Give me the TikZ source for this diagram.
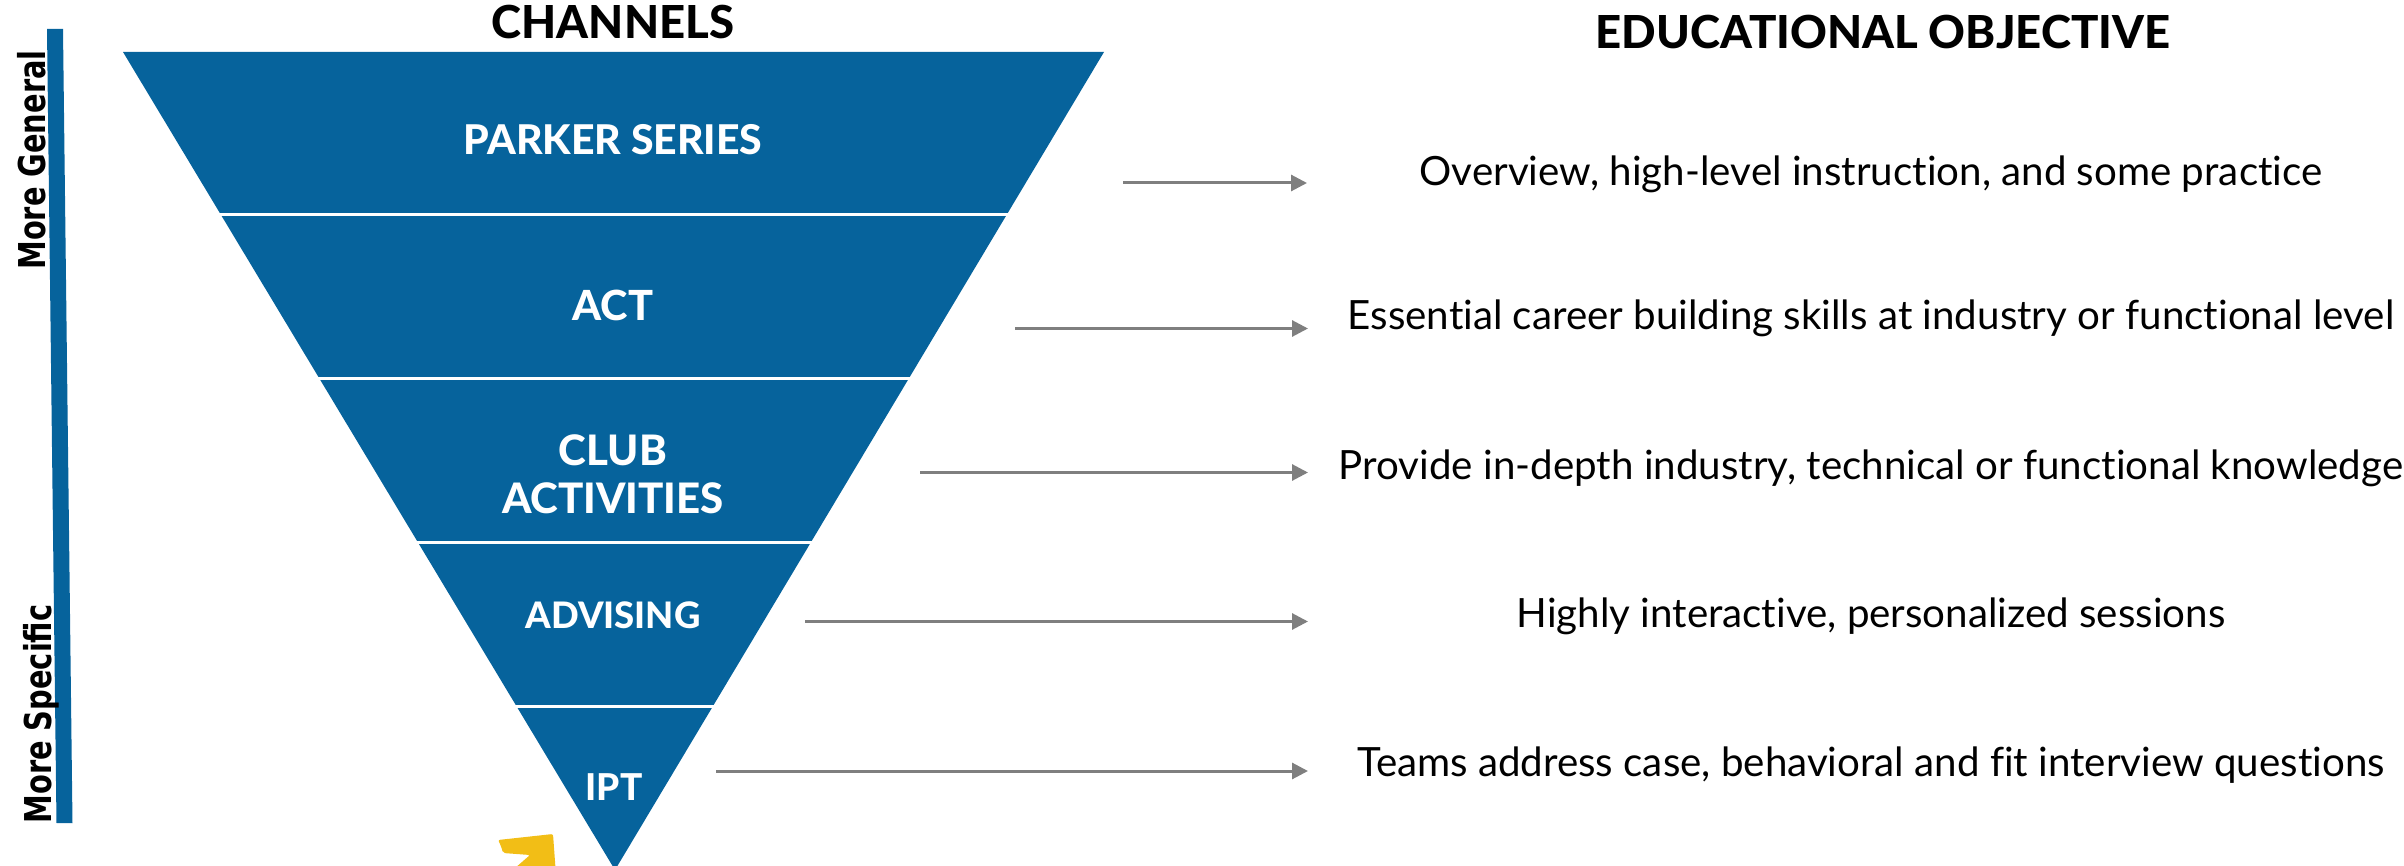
\documentclass[tikz,border=0pt]{standalone}
\usepackage{fontspec}
\setmainfont{Lato}[Ligatures=NoCommon]
\newfontfamily\headfont{Lato Heavy}[Ligatures=NoCommon]
\newfontfamily\sidefont{DejaVu Sans}
\definecolor{funnelblue}{HTML}{06639C}
\definecolor{arrowgrey}{HTML}{7F7F7F}
\definecolor{markyellow}{HTML}{F2BE16}
\usetikzlibrary{arrows.meta}
\newcommand{\fsz}[1]{\fontsize{#1}{48}\selectfont}
\tikzset{
  band/.style={fill=funnelblue,draw=none},
  sep/.style={draw=white,line width=3pt},
  title/.style={inner sep=0,anchor=base,font=\headfont\fsz{45.5}},
  chan/.style={inner sep=0,anchor=base,text=white,align=center,font=\headfont\fsz{41}},
  objective/.style={inner sep=0,anchor=base,font=\fsz{40.3}},
  sidelabel/.style={inner sep=0,anchor=base,rotate=90,font=\sidefont\bfseries\fsz{37}},
  flow/.style={draw=arrowgrey,line width=3pt,-{Triangle[length=16pt,width=16pt]}}
}
\begin{document}
\begin{tikzpicture}[x=1pt,y=-1pt]
\useasboundingbox (0,0) rectangle (2404,866);
% side bar
\fill[funnelblue] (47,29) -- (63,29) -- (72.5,823) -- (56.5,823) -- cycle;
\node[sidelabel] (gen) at (45,160) {\scalebox{0.78}[1]{More General}};
\node[sidelabel] (spec) at (51,714) {\scalebox{0.78}[1]{More Specific}};
% funnel
\path[band] (123,52) -- (1104,52) -- (615,870) -- cycle;
\draw[sep] (150,214.5) -- (1080,214.5);
\draw[sep] (250,378.5) -- (980,378.5);
\draw[sep] (350,542) -- (880,542);
\draw[sep] (450,706.5) -- (780,706.5);
% yellow mark
\begin{scope}
\clip (0,0) rectangle (2404,866);
\fill[markyellow,rounded corners=2pt] (498,840) -- (553,834) -- (556,875) -- (507,875) -- (530,855) -- (503,853) -- (501,846) -- cycle;
\end{scope}
% titles
\node[title] (tchan) at (613,39) {CHANNELS};
\node[title] (tobj) at (1883,49) {EDUCATIONAL OBJECTIVE};
% channels
\node[chan] (parker) at (613,155) {PARKER SERIES};
\node[chan,font=\headfont\fsz{41.5}] (act) at (613,321) {ACT};
\node[chan,font=\headfont\fsz{42}] (club) at (613,513) {CLUB\\ACTIVITIES};
\node[chan,font=\headfont\fsz{36.5}] (adv) at (613,628) {ADVISING};
\node[chan,font=\headfont\fsz{37}] (ipt) at (614,800) {IPT};
% objectives
\node[objective] (o1) at (1871,186) {Overview, high-level instruction, and some practice};
\node[objective] (o2) at (1871,329.5) {Essential career building skills at industry or functional level};
\node[objective] (o3) at (1871,479.5) {Provide in-depth industry, technical or functional knowledge};
\node[objective] (o4) at (1871,627) {Highly interactive, personalized sessions};
\node[objective] (o5) at (1871,776) {Teams address case, behavioral and fit interview questions};
% arrows
\coordinate (a1s) at (1123,183); \coordinate (a1e) at (1307,183);
\coordinate (a2s) at (1015,328.5); \coordinate (a2e) at (1308,328.5);
\coordinate (a3s) at (920,472.5); \coordinate (a3e) at (1308,472.5);
\coordinate (a4s) at (805,621.5); \coordinate (a4e) at (1308,621.5);
\coordinate (a5s) at (716,771); \coordinate (a5e) at (1308,771);
\draw[flow] (a1s) -- (a1e);
\draw[flow] (a2s) -- (a2e);
\draw[flow] (a3s) -- (a3e);
\draw[flow] (a4s) -- (a4e);
\draw[flow] (a5s) -- (a5e);
\end{tikzpicture}
\end{document}
